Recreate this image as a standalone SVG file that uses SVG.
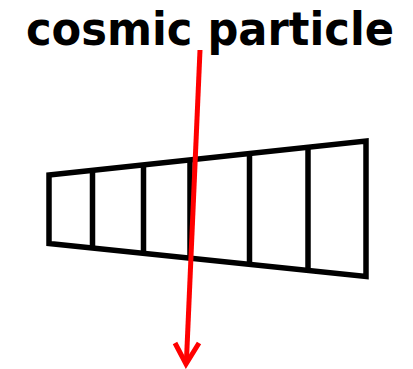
<svg xmlns="http://www.w3.org/2000/svg" width="413" height="369" viewBox="0 0 413 369">
<style>
.title{font-family:"DejaVu Sans",Verdana,sans-serif;font-weight:bold;font-size:46px;fill:#000}
.det{fill:none;stroke:#000;stroke-width:5.5;stroke-linejoin:miter}
.ray{fill:none;stroke:#ff0000;stroke-width:5}
</style>
<rect width="413" height="369" fill="#fff"/>
<g id="label"><text class="title" x="210" y="45" text-anchor="middle" textLength="368" lengthAdjust="spacingAndGlyphs">cosmic particle</text></g>
<g id="detector">
<polygon class="det" points="49,175 366,141 366,276.5 49,243.5"/>
<line class="det" x1="92.5" y1="170.3" x2="92.5" y2="248"/>
<line class="det" x1="143.5" y1="164.9" x2="143.5" y2="253.3"/>
<line class="det" x1="190" y1="159.9" x2="190" y2="258.2"/>
<line class="det" x1="249.5" y1="153.5" x2="249.5" y2="264.4"/>
<line class="det" x1="308" y1="147.2" x2="308" y2="270.5"/>
</g>
<g id="connectors">
<line class="ray" x1="200" y1="50" x2="186.4" y2="362"/>
<polyline class="ray" points="175,343 186,364 199,343"/>
</g>
</svg>
